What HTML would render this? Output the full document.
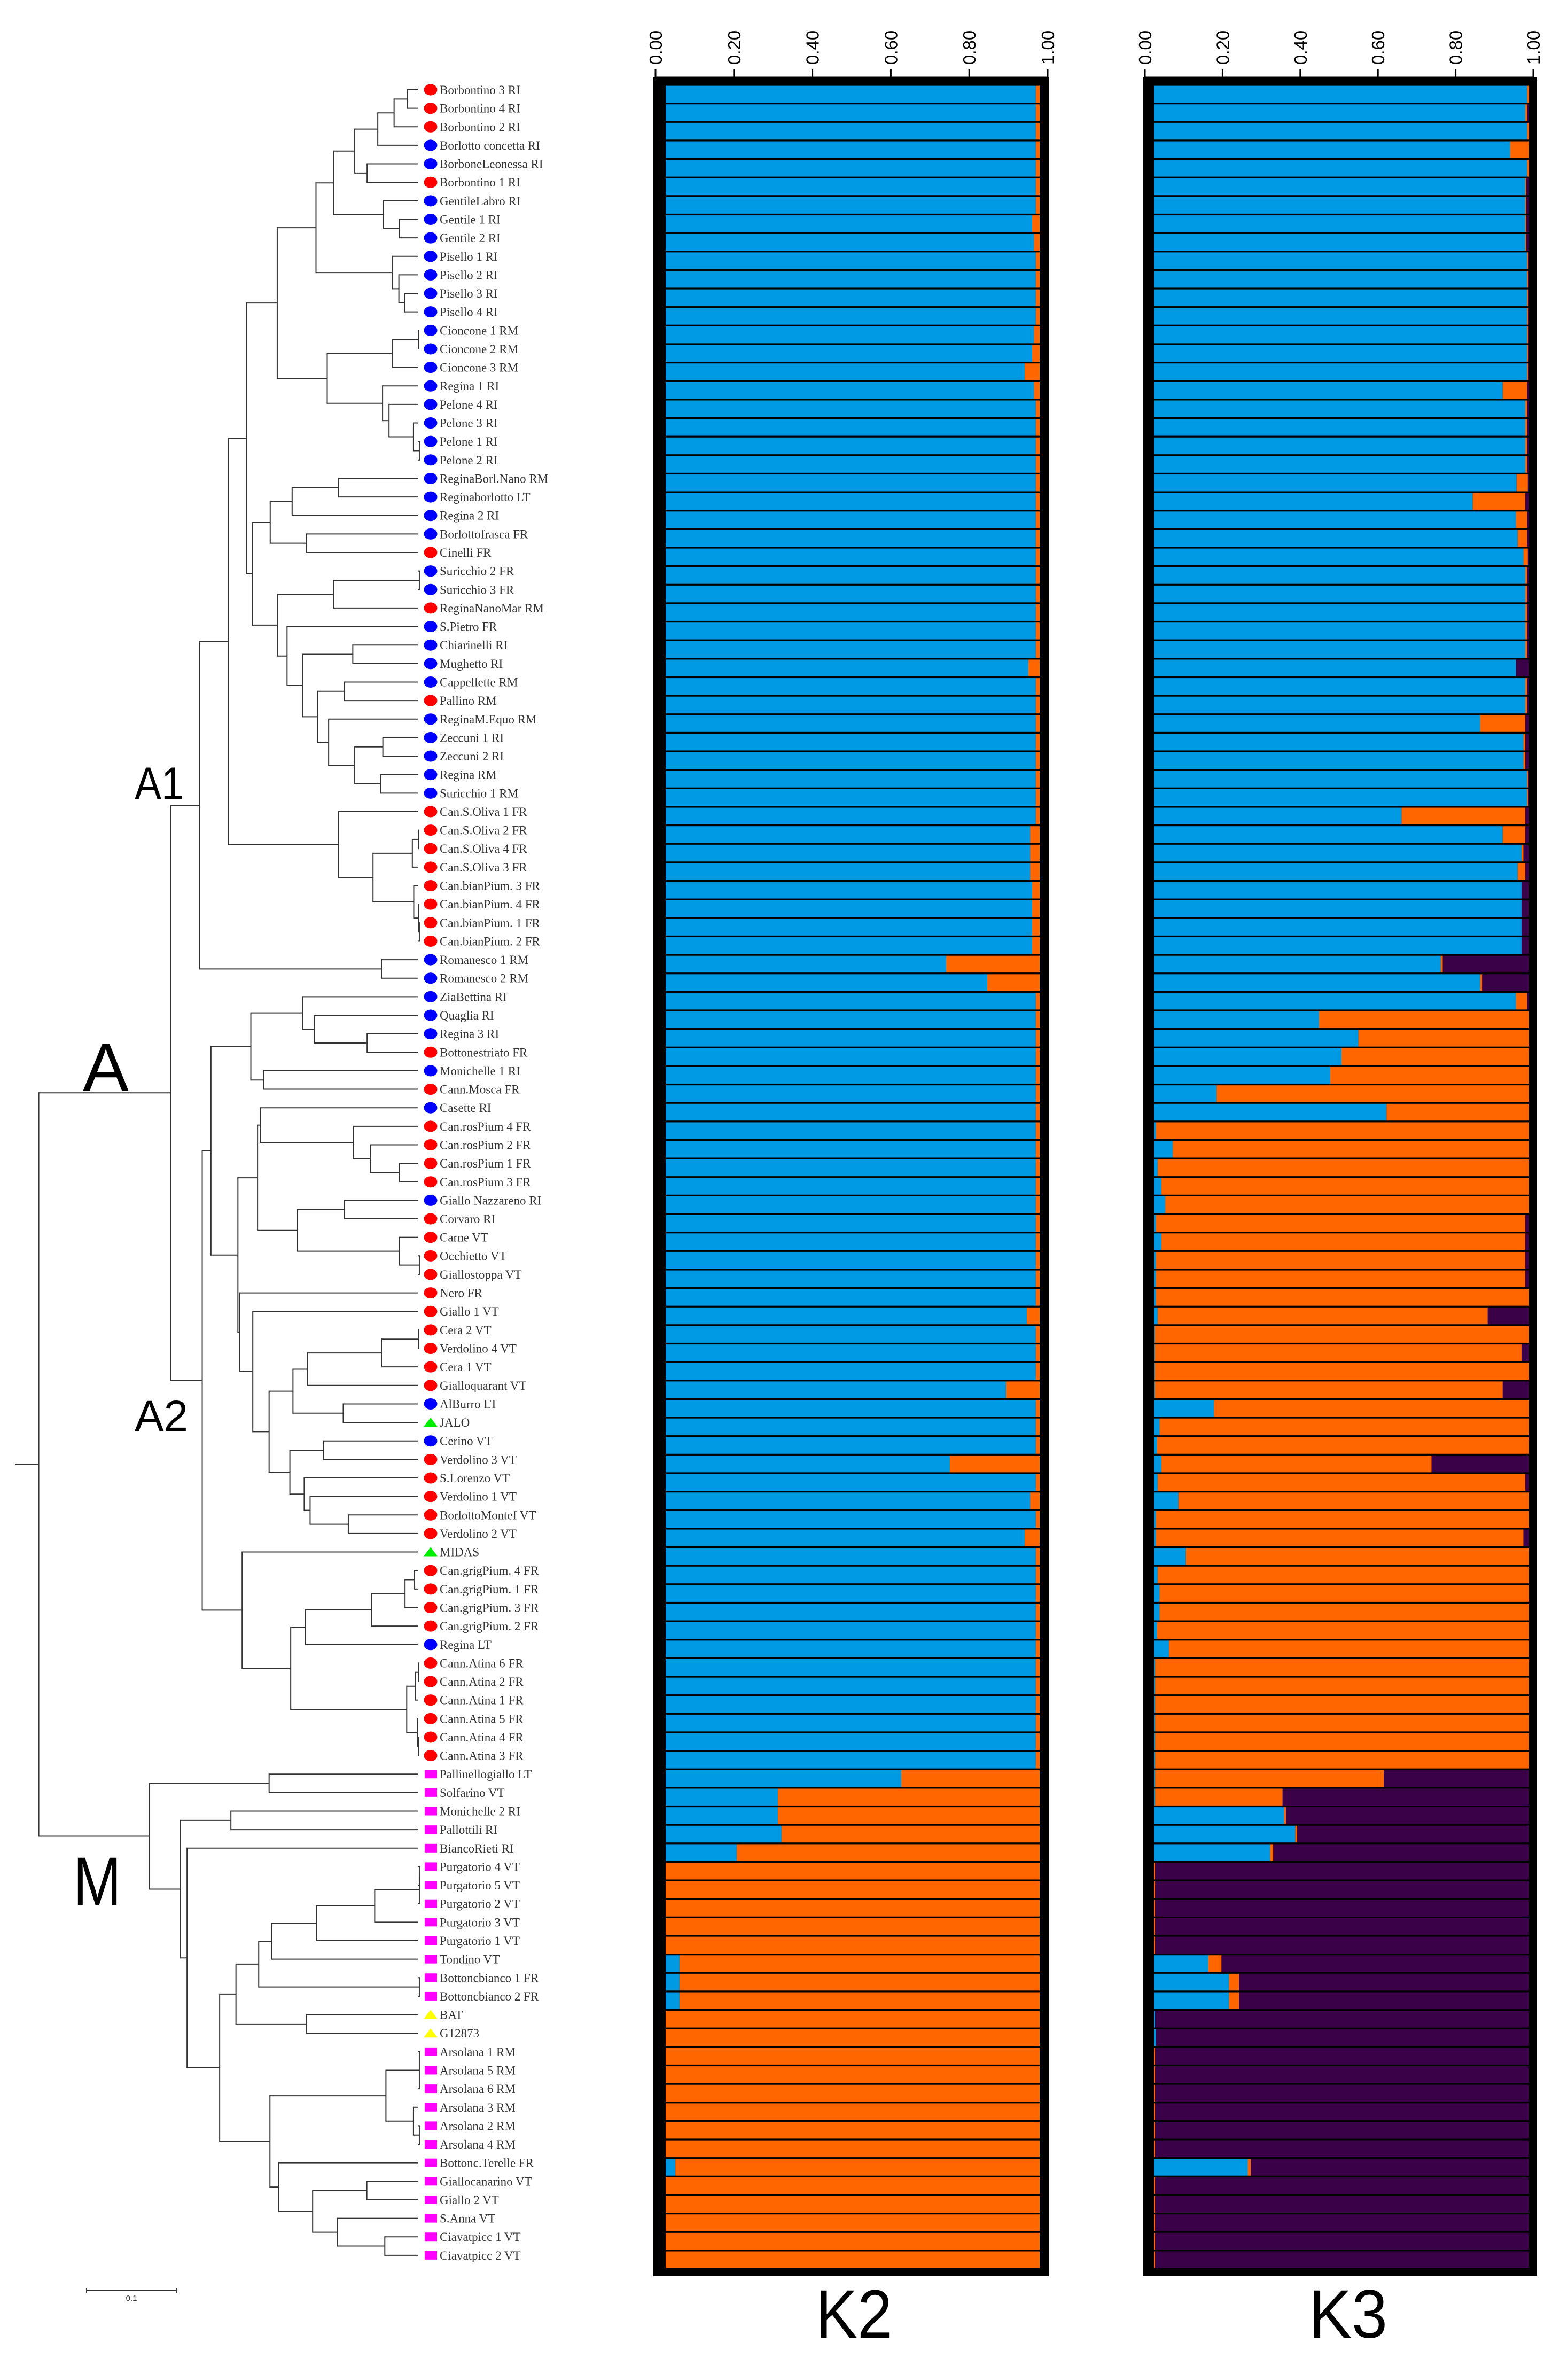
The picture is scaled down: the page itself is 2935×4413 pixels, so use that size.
<!DOCTYPE html>
<html><head><meta charset="utf-8"><style>
html,body{margin:0;padding:0;background:#fff;}
svg{display:block;}
</style></head><body>
<svg id="fig" xmlns="http://www.w3.org/2000/svg" width="2935" height="4413" viewBox="0 0 2935 4413">
<rect x="0" y="0" width="2935" height="4413" fill="#fff"/>
<g id="tree"></g>
<g id="leaves"></g>
<g id="k2"></g>
<g id="k3"></g>
<text x="155" y="2042" font-family="Liberation Sans, sans-serif" font-size="128" textLength="86" lengthAdjust="spacingAndGlyphs">A</text>
<text x="252" y="1496" font-family="Liberation Sans, sans-serif" font-size="86" textLength="92" lengthAdjust="spacingAndGlyphs">A1</text>
<text x="252" y="2678" font-family="Liberation Sans, sans-serif" font-size="82" textLength="100" lengthAdjust="spacingAndGlyphs">A2</text>
<text x="137" y="3565" font-family="Liberation Sans, sans-serif" font-size="128" textLength="90" lengthAdjust="spacingAndGlyphs">M</text>
<g stroke="#333" stroke-width="2">
<line x1="162" y1="4287" x2="331" y2="4287"/><line x1="162" y1="4282" x2="162" y2="4292"/><line x1="331" y1="4282" x2="331" y2="4292"/>
</g>
<text x="246" y="4306" font-family="Liberation Sans, sans-serif" font-size="15" text-anchor="middle" fill="#333">0.1</text>
<text x="1527" y="4375" font-family="Liberation Sans, sans-serif" font-size="128" textLength="143" lengthAdjust="spacingAndGlyphs">K2</text>
<text x="2450" y="4375" font-family="Liberation Sans, sans-serif" font-size="128" textLength="147" lengthAdjust="spacingAndGlyphs">K3</text>
</svg>
<script>
const NS = "http://www.w3.org/2000/svg";
const labels = ["Borbontino 3 RI","Borbontino 4 RI","Borbontino 2 RI","Borlotto concetta RI","BorboneLeonessa RI","Borbontino 1 RI","GentileLabro RI","Gentile 1 RI","Gentile 2 RI","Pisello 1 RI","Pisello 2 RI","Pisello 3 RI","Pisello 4 RI","Cioncone 1 RM","Cioncone 2 RM","Cioncone 3 RM","Regina 1 RI","Pelone 4 RI","Pelone 3 RI","Pelone 1 RI","Pelone 2 RI","ReginaBorl.Nano RM","Reginaborlotto LT","Regina 2 RI","Borlottofrasca FR","Cinelli FR","Suricchio 2 FR","Suricchio 3 FR","ReginaNanoMar RM","S.Pietro FR","Chiarinelli RI","Mughetto RI","Cappellette RM","Pallino RM","ReginaM.Equo RM","Zeccuni 1 RI","Zeccuni 2 RI","Regina RM","Suricchio 1 RM","Can.S.Oliva 1 FR","Can.S.Oliva 2 FR","Can.S.Oliva 4 FR","Can.S.Oliva 3 FR","Can.bianPium. 3 FR","Can.bianPium. 4 FR","Can.bianPium. 1 FR","Can.bianPium. 2 FR","Romanesco 1 RM","Romanesco 2 RM","ZiaBettina RI","Quaglia RI","Regina 3 RI","Bottonestriato FR","Monichelle 1 RI","Cann.Mosca FR","Casette RI","Can.rosPium 4 FR","Can.rosPium 2 FR","Can.rosPium 1 FR","Can.rosPium 3 FR","Giallo Nazzareno RI","Corvaro RI","Carne VT","Occhietto VT","Giallostoppa VT","Nero FR","Giallo 1 VT","Cera 2 VT","Verdolino 4 VT","Cera 1 VT","Gialloquarant VT","AlBurro LT","JALO","Cerino VT","Verdolino 3 VT","S.Lorenzo VT","Verdolino 1 VT","BorlottoMontef VT","Verdolino 2 VT","MIDAS","Can.grigPium. 4 FR","Can.grigPium. 1 FR","Can.grigPium. 3 FR","Can.grigPium. 2 FR","Regina LT","Cann.Atina 6 FR","Cann.Atina 2 FR","Cann.Atina 1 FR","Cann.Atina 5 FR","Cann.Atina 4 FR","Cann.Atina 3 FR","Pallinellogiallo LT","Solfarino VT","Monichelle 2 RI","Pallottili RI","BiancoRieti RI","Purgatorio 4 VT","Purgatorio 5 VT","Purgatorio 2 VT","Purgatorio 3 VT","Purgatorio 1 VT","Tondino VT","Bottoncbianco 1 FR","Bottoncbianco 2 FR","BAT","G12873","Arsolana 1 RM","Arsolana 5 RM","Arsolana 6 RM","Arsolana 3 RM","Arsolana 2 RM","Arsolana 4 RM","Bottonc.Terelle FR","Giallocanarino VT","Giallo 2 VT","S.Anna VT","Ciavatpicc 1 VT","Ciavatpicc 2 VT"];
const markers = "RRRBBRBBBBBBBBBBBBBBBBBBBRBBRBBBBRBBBBBRRRRRRRRBBBBBRBRBRRRRBRRRRRRRRRRBGBRRRRRGRRRRBRRRRRRMMMMMMMMMMMMMYYMMMMMMMMMMMM";
const k2Blue = [0.99,0.99,0.99,0.99,0.99,0.99,0.99,0.98,0.985,0.99,0.99,0.99,0.99,0.985,0.98,0.96,0.985,0.99,0.99,0.99,0.99,0.99,0.99,0.99,0.99,0.99,0.99,0.99,0.99,0.99,0.99,0.97,0.99,0.99,0.99,0.99,0.99,0.99,0.99,0.99,0.975,0.975,0.975,0.98,0.98,0.98,0.98,0.75,0.86,0.99,0.99,0.99,0.99,0.99,0.99,0.99,0.99,0.99,0.99,0.99,0.99,0.99,0.99,0.99,0.99,0.99,0.966,0.99,0.99,0.99,0.91,0.99,0.99,0.99,0.76,0.99,0.975,0.99,0.96,0.99,0.99,0.99,0.99,0.99,0.99,0.99,0.99,0.99,0.99,0.99,0.99,0.63,0.30,0.30,0.31,0.19,0,0,0,0,0,0.037,0.037,0.037,0,0,0,0,0,0,0,0,0.026,0,0,0,0,0];
const k3Blue = [0.995,0.99,0.995,0.95,0.995,0.99,0.99,0.99,0.99,0.995,0.995,0.995,0.995,0.995,0.995,0.995,0.93,0.99,0.99,0.99,0.99,0.967,0.85,0.965,0.97,0.985,0.99,0.99,0.99,0.99,0.99,0.965,0.99,0.99,0.87,0.985,0.985,0.995,0.995,0.66,0.93,0.98,0.97,0.98,0.98,0.98,0.98,0.765,0.87,0.965,0.44,0.545,0.50,0.47,0.167,0.62,0.005,0.05,0.01,0.02,0.03,0.005,0.02,0.005,0.005,0.005,0.01,0.002,0.002,0.002,0.002,0.16,0.015,0.008,0.02,0.01,0.065,0.005,0.005,0.085,0.01,0.015,0.015,0.008,0.04,0.003,0.003,0.003,0.003,0.003,0.003,0.003,0.003,0.347,0.377,0.31,0,0,0,0,0,0.145,0.2,0.2,0.003,0.005,0,0,0,0,0,0,0.25,0,0,0,0,0];
const k3Orange = [0.005,0.005,0.005,0.05,0.005,0.003,0.003,0.003,0.003,0.003,0.003,0.003,0.003,0.003,0.003,0.003,0.065,0.005,0.005,0.005,0.005,0.03,0.14,0.03,0.025,0.012,0.005,0.005,0.005,0.005,0.005,0,0.005,0.005,0.12,0.005,0.005,0.003,0.003,0.33,0.06,0.005,0.02,0,0,0,0,0.005,0.005,0.03,0.56,0.455,0.50,0.53,0.833,0.38,0.995,0.95,0.99,0.98,0.97,0.985,0.97,0.985,0.985,0.995,0.88,0.998,0.978,0.998,0.928,0.84,0.985,0.992,0.72,0.98,0.935,0.995,0.98,0.915,0.99,0.985,0.985,0.992,0.96,0.997,0.997,0.997,0.997,0.997,0.997,0.61,0.34,0.005,0.005,0.008,0.003,0.003,0.003,0.003,0.003,0.035,0.027,0.027,0,0,0.003,0.003,0.003,0.003,0.003,0.003,0.008,0.003,0.003,0.003,0.003,0.003];
const ticks = ["0.00","0.20","0.40","0.60","0.80","1.00"];
const tickVals = [0,0.2,0.4,0.6,0.8,1.0];

const N = labels.length;
const rowTop = 159, rowH = 34.64;
const BLUE = "#0099E3", ORANGE = "#FF6600", PURPLE = "#3A0048";

function el(tag, attrs, parent) {
  const e = document.createElementNS(NS, tag);
  for (const k in attrs) e.setAttribute(k, attrs[k]);
  parent.appendChild(e);
  return e;
}

const A1 = [710,
  [813,
    [877,
      [987,
        [1125,
          [1188,
            [1263, [1345, [1403, [1450, 1, 2], 3], 4], [1307, 5, 6]],
            [1365, 7, [1422, 8, 9]]],
          [1398, 10, [1420, 11, [1440, 12, 13]]]],
        [1165,
          [1398, [1490, 14, 15], 16],
          [1362, 17, [1385, 18, [1472, 19, [1493, 20, 21]]]]]],
      [898,
        [962, [1040, [1205, 22, 23], 24], [1090, 25, 26]],
        [988,
          [1188, [1493, 27, 28], 29],
          [1022, 30,
            [1077, [1256, 31, 32],
              [1131, [1226, 33, 34],
                [1170, 35, [1263, [1363, 36, 37], [1355, 38, 39]]]]]]]]],
    [1205, 40, [1328, [1468, [1490, 41, 42], 43], [1473, 44, [1490, 45, [1493, 46, 47]]]]]],
  [1358, 48, 49]];
const A2 = [720,
  [751,
    [893, [1077, 50, [1120, 51, [1307, 52, 53]]], [938, 54, 55]],
    [847,
      [917,
        [928, 56, [1258, 57, [1320, 58, [1422, 59, 60]]]],
        [1059, [1226, 61, 62], [1422, 63, [1493, 64, 65]]]],
      [853, 66,
        [900, 67,
          [958,
            [1043, [1094, [1358, [1490, 68, 69], 70], 71], [1222, 72, 73]],
            [1032, [1151, 74, 75], [1083, 76, [1104, 77, [1240, 78, 79]]]]]]]]],
  [862, 80,
    [1035,
      [1087, [1323, [1442, [1476, 81, 82], 83], 84], 85],
      [1448, [1478, [1490, 86, 87], 88], [1487, 89, [1490, 90, 91]]]]]];
const Mc = [532, [958, 92, 93],
  [642, [822, 94, 95],
    [666, 96,
      [782,
        [840,
          [921, [968, [1127, [1334, [1493, [1493, 97, 98], 99], 100], 101], 102], [1493, 103, 104]],
          [1090, 105, 106]],
        [961,
          [1374, [1493, 107, 108, 109], [1472, 110, [1493, 111, 112]]],
          [992, 113, [1113, [1306, 114, 115], [1201, 116, [1370, 117, 118]]]]]]]]];
const treeRoot = [138, [607, A1, A2], Mc];

const tipX = 783, zs = 1.902;
function leafY(i) { return 168 + (i - 1) * rowH; }
const treeG = document.getElementById('tree');
function drawNode(n) {
  if (typeof n === 'number') return leafY(n);
  const x = n[0] / zs;
  const ys = [];
  for (let c = 1; c < n.length; c++) {
    const ch = n[c];
    const cy = drawNode(ch);
    const cx = typeof ch === 'number' ? tipX : ch[0] / zs;
    const h = el('line', {x1: x, y1: cy, x2: cx, y2: cy, stroke: '#333', 'stroke-width': 2}, treeG);
    
    
    ys.push(cy);
  }
  const y0 = ys[0], y1 = ys[ys.length - 1];
  const v = el('line', {x1: x, y1: y0 - 1, x2: x, y2: y1 + 1, stroke: '#333', 'stroke-width': 2}, treeG);
  
  
  return (y0 + y1) / 2;
}
const rootY = drawNode(treeRoot);
const stub = el('line', {x1: 29, y1: rootY, x2: 138 / zs, y2: rootY, stroke: '#333', 'stroke-width': 2}, treeG);



const leafG = document.getElementById('leaves');
const mcol = {R: '#ff0000', B: '#0000ff', G: '#00ee00', M: '#ff00ff', Y: '#ffff00'};
for (let i = 0; i < N; i++) {
  const y = leafY(i + 1);
  const m = markers[i];
  let mk;
  if (m === 'R' || m === 'B') {
    mk = el('ellipse', {cx: 806, cy: y, rx: 12.5, ry: 10.5, fill: mcol[m]}, leafG);
  } else if (m === 'M') {
    mk = el('rect', {x: 795, y: y - 8, width: 23, height: 16, fill: mcol[m]}, leafG);
  } else {
    mk = el('polygon', {points: (793) + ',' + (y + 8) + ' ' + (819) + ',' + (y + 8) + ' ' + 806 + ',' + (y - 9), fill: mcol[m]}, leafG);
  }
  
  
  const t = el('text', {x: 823, y: y + 8, 'font-family': 'Liberation Serif, serif', 'font-size': 23, fill: '#333'}, leafG);
  t.textContent = labels[i];
  
  
}

function chart(gid, box, inner, axis, series) {
  const g = document.getElementById(gid);
  const frame = el('rect', {x: box[0], y: 145, width: box[1] - box[0], height: 4259 - 145, fill: '#000'}, g);
  
  
  const sx = v => inner[0] + v * (inner[1] - inner[0]);
  const ax = v => axis[0] + v * (axis[1] - axis[0]);
  for (let k = 0; k < ticks.length; k++) {
    const x = ax(tickVals[k]);
    const tl = el('line', {x1: x, y1: 130, x2: x, y2: 146, stroke: '#000', 'stroke-width': 3}, g);
    
    
    const tt = el('text', {x: 0, y: 0, transform: 'translate(' + (x + 12) + ',121) rotate(-90)', 'font-family': 'Liberation Sans, sans-serif', 'font-size': 33}, g);
    tt.textContent = ticks[k];
    
    
  }
  const axl = el('line', {x1: axis[0], y1: 145, x2: axis[1], y2: 145, stroke: '#000', 'stroke-width': 3}, g);
  
  
  for (let i = 0; i < N; i++) {
    const y = rowTop + i * rowH + 1.6;
    const h = rowH - 3.2;
    let acc = 0;
    for (const s of series) {
      const v = s.vals ? s.vals[i] : Math.max(0, 1 - series.filter(o => o.vals).reduce((a, o) => a + o.vals[i], 0));
      if (v <= 0) continue;
      const x0 = sx(acc), x1 = sx(Math.min(1, acc + v));
      const r = el('rect', {x: x0, y: y, width: Math.max(0, x1 - x0), height: h, fill: s.color}, g);
      
      
      acc += v;
    }
  }
}
chart('k2', [1223, 1964], [1246, 1946], [1227, 1961], [
  {name: 'k2-bar-cluster-blue', color: BLUE, vals: k2Blue},
  {name: 'k2-bar-cluster-orange', color: ORANGE, vals: null}
]);
chart('k3', [2140, 2877], [2160, 2862], [2143, 2870], [
  {name: 'k3-bar-cluster-blue', color: BLUE, vals: k3Blue},
  {name: 'k3-bar-cluster-orange', color: ORANGE, vals: k3Orange},
  {name: 'k3-bar-cluster-purple', color: PURPLE, vals: null}
]);
</script>
</body></html>
